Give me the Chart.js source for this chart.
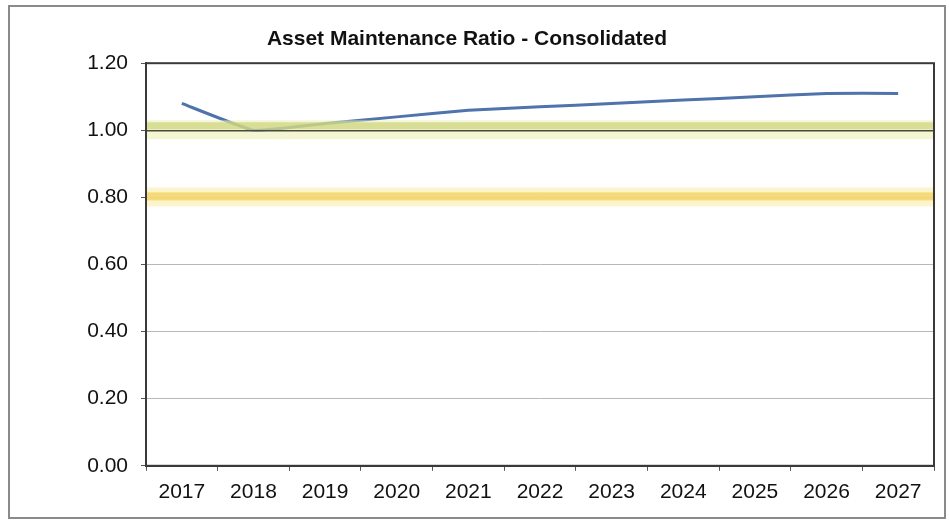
<!DOCTYPE html>
<html>
<head>
<meta charset="utf-8">
<script src="https://cdn.jsdelivr.net/npm/chart.js@4.4.1/dist/chart.umd.min.js"></script>
<style>
  html, body { margin: 0; padding: 0; background: #fff; }
  #wrap { position: relative; width: 949px; height: 528px; }
  #frame { position: absolute; left: 8px; top: 5px; width: 938px; height: 514px; border: 2px solid #8a8a8a; box-sizing: border-box; }
  canvas { position: absolute; left: 0; top: 0; }
</style>
</head>
<body>
<div id="wrap">
  <div id="frame"></div>
  <canvas id="chart" width="949" height="528"></canvas>
</div>
<script>
// Asset maintenance ratio, consolidated
const years = ["2017", "2018", "2019", "2020", "2021", "2022", "2023", "2024", "2025", "2026", "2027"]
const ratio = [1.08, 1.0, 1.02, 1.04, 1.06, 1.07, 1.08, 1.09, 1.1, 1.11, 1.11]
const yTicks = [0, 0.2, 0.4, 0.6, 0.8, 1.0, 1.2]
const targetLevel = 1.0
const minimumLevel = 0.8

// highlighter bands drawn over the plot, plus the box around the plot area
const bandsPlugin = {
  id: "bands",
  afterDatasetsDraw(chart) {
    const { ctx, chartArea, scales } = chart
    const left = chartArea.left
    const w = chartArea.right - chartArea.left

    // green-ish band at 1.00
    const y1 = scales.y.getPixelForValue(targetLevel)
    ctx.save()
    ctx.fillStyle = "rgba(236, 238, 180, 0.6)"
    ctx.fillRect(left, y1 - 10, w, 19)
    ctx.fillStyle = "rgba(196, 206, 110, 0.6)"
    ctx.fillRect(left, y1 - 8, w, 7)
    ctx.strokeStyle = "#4a4a3a"
    ctx.lineWidth = 1.5
    ctx.beginPath()
    ctx.moveTo(left, y1 + 0.5)
    ctx.lineTo(chartArea.right, y1 + 0.5)
    ctx.stroke()

    // yellow band at 0.80
    const y2 = scales.y.getPixelForValue(minimumLevel)
    ctx.fillStyle = "rgba(250, 236, 170, 0.6)"
    ctx.fillRect(left, y2 - 10, w, 19)
    ctx.fillStyle = "rgba(243, 212, 100, 0.8)"
    ctx.fillRect(left, y2 - 5, w, 8)

    // plot box
    ctx.strokeStyle = "#3a3a3a"
    ctx.lineWidth = 2
    ctx.strokeRect(chartArea.left, chartArea.top, w, chartArea.bottom - chartArea.top)
    ctx.restore()
  },
}

new Chart(document.getElementById("chart"), {
  type: "line",
  data: {
    labels: years,
    datasets: [
      {
        data: ratio,
        borderColor: "#4f73aa",
        borderWidth: 3,
        pointRadius: 0,
        tension: 0.1,
        fill: false,
      },
    ],
  },
  options: {
    responsive: false,
    animation: false,
    layout: { padding: { left: 0, right: 15, top: 0, bottom: 14 } },
    plugins: {
      legend: { display: false },
      tooltip: { enabled: false },
      title: {
        display: true,
        text: "Asset Maintenance Ratio - Consolidated",
        color: "#111",
        font: { family: "'Liberation Sans', Arial, sans-serif", size: 21, weight: "bold" },
        padding: { top: 27, bottom: 11 },
      },
    },
    scales: {
      x: {
        offset: true,
        grid: { offset: true, drawOnChartArea: false, color: "#555", tickLength: 5 },
        border: { color: "#3a3a3a", width: 2 },
        ticks: {
          color: "#111",
          padding: 9,
          maxRotation: 0,
          font: { family: "'Liberation Sans', Arial, sans-serif", size: 21 },
        },
      },
      y: {
        min: 0,
        max: 1.2,
        afterBuildTicks(scale) {
          scale.ticks = yTicks.map((v) => ({ value: v }))
        },
        afterFit(scale) {
          scale.width = 146
        },
        grid: { color: "#b8b8b8", lineWidth: 1, tickLength: 5, tickColor: "#555" },
        border: { color: "#3a3a3a", width: 2 },
        ticks: {
          color: "#111",
          padding: 13,
          font: { family: "'Liberation Sans', Arial, sans-serif", size: 21 },
          callback: (v) => Number(v).toFixed(2),
        },
      },
    },
  },
  plugins: [bandsPlugin],
})
</script>
</body>
</html>
